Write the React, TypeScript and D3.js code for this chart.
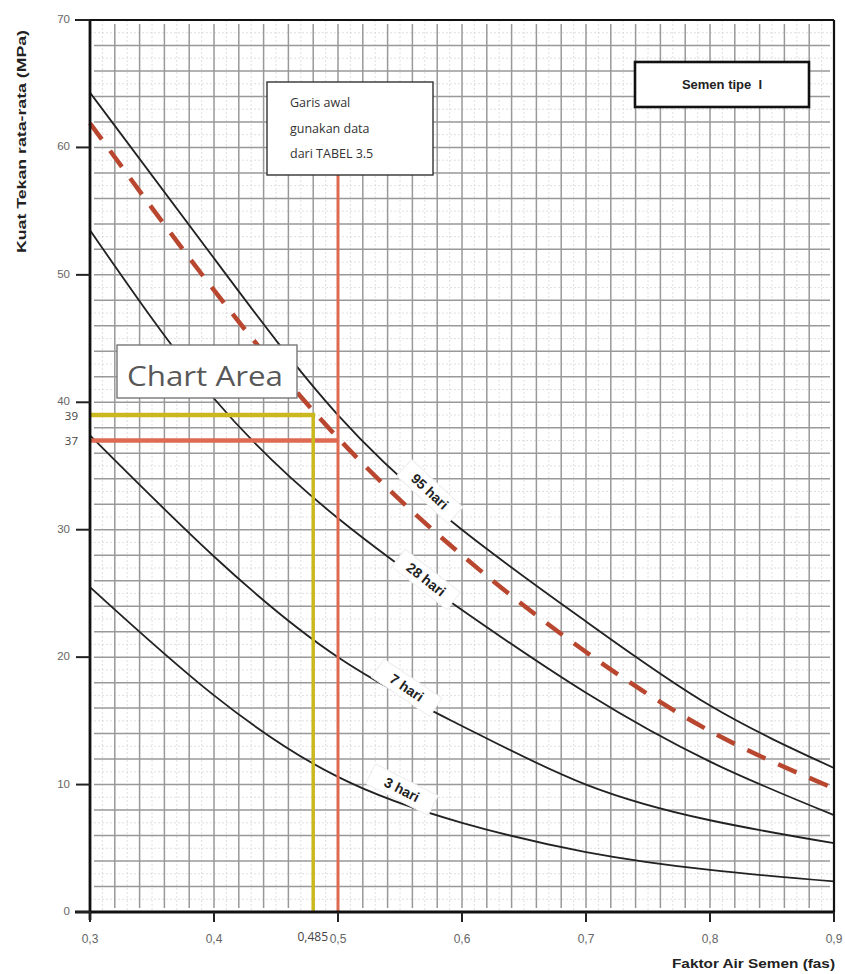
import React from "react";
import * as d3 from "d3";

// ---- data ----
const fas = [0.3, 0.4, 0.5, 0.6, 0.7, 0.8, 0.9];
const hari95 = [64.3, 51.3, 39.0, 30.0, 22.8, 16.2, 11.3];
const targetLine = [61.9, 48.8, 37.2, 28.0, 20.4, 14.2, 9.7];
const hari28 = [53.5, 40.3, 30.9, 23.7, 17.2, 11.8, 7.6];
const hari7 = [37.4, 27.9, 20.0, 14.6, 10.0, 7.2, 5.4];
const hari3 = [25.5, 17.0, 10.6, 7.0, 4.7, 3.3, 2.4];

const xTicks = [0.3, 0.4, 0.5, 0.6, 0.7, 0.8, 0.9];
const yTicks = [0, 10, 20, 30, 40, 50, 60, 70];

const curveLabels = [
  { text: "95 hari", x: 0.574, y: 33.0, angle: 43 },
  { text: "28 hari", x: 0.571, y: 26.1, angle: 38 },
  { text: "7 hari", x: 0.5555, y: 17.6, angle: 34 },
  { text: "3 hari", x: 0.5515, y: 9.6, angle: 27 },
];

const fasStart = 0.5; // garis awal
const fasResult = 0.485; // value written on the chart
const fasResultDrawn = 0.48; // where the yellow line is drawn in the reference
const fcTarget = 37;
const fcResult = 39;

const W = 845;
const H = 974;

export default function App() {
  const x = d3.scaleLinear().domain([0.3, 0.9]).range([90, 834]);
  const y = d3.scaleLinear().domain([0, 70]).range([912, 20]);

  const line = d3
    .line<number>()
    .x((_, i) => x(fas[i]))
    .y((d) => y(d))
    .curve(d3.curveNatural);

  const majorX = d3.range(0.32, 0.9, 0.02);
  const majorY = d3.range(2, 70, 2);
  const minorX = d3.range(0.31, 0.9, 0.02);
  const minorY = d3.range(1, 70, 2);

  const font = "Liberation Sans, Arial, sans-serif";
  const softFont = "Open Sans, Noto Sans, sans-serif";
  const red = "#de6a52";
  const yellow = "#cbb81e";

  return (
    <div style={{ position: "absolute", left: 0, top: 0 }}>
      <svg width={W} height={H} style={{ display: "block", background: "#fff" }}>
        {/* minor grid */}
        <g stroke="#d8d8d8" strokeWidth={0.8} strokeDasharray="2 2">
          {minorX.map((v, i) => (
            <line key={"mx" + i} x1={x(v)} x2={x(v)} y1={y(70)} y2={y(0)} />
          ))}
          {minorY.map((v, i) => (
            <line key={"my" + i} x1={x(0.3)} x2={x(0.9)} y1={y(v)} y2={y(v)} />
          ))}
        </g>
        {/* major grid */}
        <g stroke="#999" strokeWidth={1.5}>
          {majorX.map((v, i) => (
            <line key={"gx" + i} x1={x(v)} x2={x(v)} y1={y(70) + 4} y2={y(0) - 4} />
          ))}
          {majorY.map((v, i) => (
            <line key={"gy" + i} x1={x(0.3) + 4} x2={x(0.9) - 4} y1={y(v)} y2={y(v)} />
          ))}
        </g>

        {/* curves */}
        <g fill="none" stroke="#222" strokeWidth={1.8}>
          <path d={line(hari95) || ""} />
          <path d={line(hari28) || ""} />
          <path d={line(hari7) || ""} />
          <path d={line(hari3) || ""} />
        </g>
        <path
          d={line(targetLine) || ""}
          fill="none"
          stroke="#b9472f"
          strokeWidth={4.5}
          strokeDasharray="20 14"
        />

        {/* curve labels */}
        {curveLabels.map((l, i) => (
          <g key={"cl" + i} transform={`translate(${x(l.x)},${y(l.y)}) rotate(${l.angle})`}>
            <rect x={-35} y={-11} width={70} height={22} fill="#fff" stroke="#eeeeee" strokeWidth={1} />
            <text
              textAnchor="middle"
              dy="0.35em"
              fontFamily={font}
              fontWeight="bold"
              fontSize={14}
              fill="#222"
            >
              {l.text}
            </text>
          </g>
        ))}

        {/* red guide lines */}
        <line x1={x(fasStart)} x2={x(fasStart)} y1={175} y2={y(0)} stroke={red} strokeWidth={3} />
        <line x1={x(0.3)} x2={x(fasStart)} y1={y(fcTarget)} y2={y(fcTarget)} stroke={red} strokeWidth={4.5} />
        {/* yellow result lines */}
        <line x1={x(0.3)} x2={x(fasResultDrawn) + 2} y1={y(fcResult)} y2={y(fcResult)} stroke={yellow} strokeWidth={4.5} />
        <line x1={x(fasResultDrawn)} x2={x(fasResultDrawn)} y1={y(fcResult)} y2={y(0)} stroke={yellow} strokeWidth={3.5} />

        {/* frame */}
        <g stroke="#111" fill="none">
          <line x1={x(0.3)} x2={x(0.3)} y1={y(70)} y2={y(0) + 8} strokeWidth={2.8} />
          <line x1={75} x2={x(0.9)} y1={y(70)} y2={y(70)} strokeWidth={2.2} />
          <line x1={x(0.9)} x2={x(0.9)} y1={y(70)} y2={y(0)} strokeWidth={2.2} />
          <line x1={75} x2={x(0.9)} y1={y(0)} y2={y(0)} strokeWidth={2.8} />
        </g>

        {/* y ticks */}
        {yTicks.map((t) => (
          <g key={"yt" + t}>
            <line x1={76} x2={x(0.3)} y1={y(t)} y2={y(t)} stroke="#222" strokeWidth={2} />
            <text
              x={70}
              y={y(t) - 1}
              dy="0.35em"
              textAnchor="end"
              fontFamily={font}
              fontSize={11.5}
              fill="#666"
            >
              {t}
            </text>
          </g>
        ))}
        {/* x ticks */}
        {xTicks.map((t) => (
          <g key={"xt" + t}>
            <line x1={x(t)} x2={x(t)} y1={y(0)} y2={y(0) + 10} stroke="#222" strokeWidth={2} />
            <text
              x={x(t)}
              y={y(0) + 31}
              textAnchor="middle"
              fontFamily={font}
              fontSize={12}
              fill="#666"
            >
              {String(t).replace(".", ",")}
            </text>
          </g>
        ))}

        {/* extra value labels */}
        <text x={78} y={y(fcResult) + 1} dy="0.35em" textAnchor="end" fontFamily={softFont} fontSize={11.5} fill="#444">
          {fcResult}
        </text>
        <text x={78} y={y(fcTarget)} dy="0.35em" textAnchor="end" fontFamily={softFont} fontSize={11.5} fill="#444">
          {fcTarget}
        </text>
        <text x={x(0.5) - 10} y={y(0) + 29} textAnchor="end" fontFamily={softFont} fontSize={12} fill="#444">
          {String(fasResult).replace(".", ",")}
        </text>

        {/* axis titles */}
        <text
          transform={`translate(26,253) rotate(-90)`}
          fontFamily={font}
          fontWeight="bold"
          fontSize={12}
          fill="#222"
          textLength={223}
          lengthAdjust="spacingAndGlyphs"
        >
          Kuat Tekan rata-rata (MPa)
        </text>
        <text
          x={672}
          y={968}
          fontFamily={font}
          fontWeight="bold"
          fontSize={12.5}
          fill="#222"
          textLength={163}
          lengthAdjust="spacingAndGlyphs"
        >
          Faktor Air Semen (fas)
        </text>

        {/* Garis awal box */}
        <rect x={267} y={82} width={166} height={93} fill="#fff" stroke="#333" strokeWidth={1.4} />
        <g fontFamily={softFont} fontSize={12.5} fill="#333">
          <text x={290} y={107}>Garis awal</text>
          <text x={290} y={133}>gunakan data</text>
          <text x={290} y={158}>dari TABEL 3.5</text>
        </g>

        {/* Semen tipe I box */}
        <rect x={635} y={62} width={174} height={45} fill="#fff" stroke="#111" strokeWidth={2.6} />
        <text
          x={722}
          y={84}
          dy="0.35em"
          textAnchor="middle"
          fontFamily={font}
          fontWeight="bold"
          fontSize={13}
          fill="#222"
          style={{ whiteSpace: "pre" }}
        >
          {"Semen tipe  I"}
        </text>

        {/* Chart Area box */}
        <rect x={117} y={345} width={180} height={53} fill="#fff" stroke="#777" strokeWidth={1.4} />
        <text
          x={127}
          y={386}
          fontFamily={softFont}
          fontSize={27}
          fill="#585858"
          textLength={156}
          lengthAdjust="spacingAndGlyphs"
        >
          Chart Area
        </text>
      </svg>
    </div>
  );
}
